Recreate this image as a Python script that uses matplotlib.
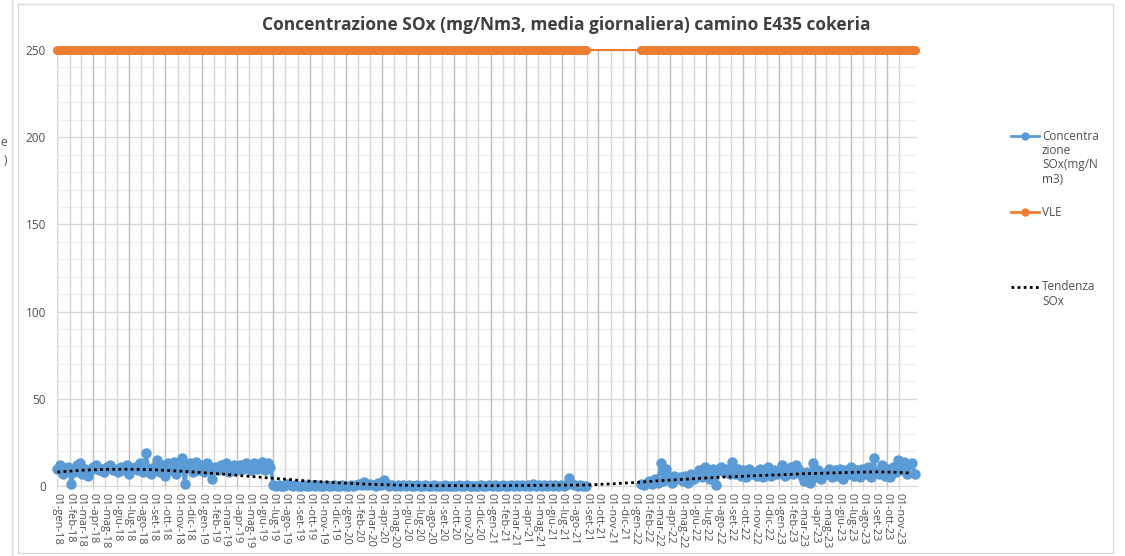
import matplotlib
matplotlib.use('Agg')
import matplotlib.pyplot as plt
import matplotlib.dates as mdates
from matplotlib.lines import Line2D
from matplotlib.patches import Rectangle
import numpy as np
import pandas as pd

plt.rcParams['font.family'] = ['Open Sans', 'DejaVu Sans']

################################ DATI #########################################

# concentrazione SOx, valori settimanali (mg/Nm3)
# periodo 1: dal 01-gen-18, una misura a settimana
conc_2018 = [10, 12, 7, 9, 11,
             1, 8, 12, 13,
             7, 10, 6, 9,
             11, 12, 9, 10,
             8, 11, 12, 9,
             10, 8, 11, 9,
             12, 7, 10, 11, 9,
             13, 8, 19, 10,
             7, 11, 15, 8,
             12, 6, 13, 9, 14,
             7, 12, 16, 1,
             11, 13, 8, 14, 9]
conc_2019_h1 = [12, 8, 13, 10,
                4, 11, 9, 12,
                10, 13, 8, 11, 12,
                9, 12, 10, 13,
                11, 9, 13, 10,
                12, 14, 9, 13, 11]
# periodo 2: dal 01-lug-19 al 30-ago-21
conc_2019_h2 = [0.5, 0, 0.3, 0, 0, 1, 0.5, 0, 0.3, 0, 0, 0.5, 0, 0,
                0.3, 0, 0.5, 0, 0, 0.3, 0, 0, 0.5, 0, 0, 0.3, 0]
conc_2020 = [0, 0.5, 0, 0.3,
             1, 0.5, 2.5, 0.5,
             1, 0.5, 0, 1.5,
             0.5, 3.5, 1, 0,
             0.5, 0, 0.5, 0, 0.3,
             0, 0.3, 0, 0,
             0.3, 0, 0, 0.3,
             0, 0, 0.3, 0, 0,
             0, 0.3, 0, 0,
             0, 0, 0.3, 0,
             0, 0.3, 0, 0, 0,
             0, 0.3, 0, 0, 0.3]
conc_2021 = [0, 0.3, 0, 0,
             0.3, 0, 0, 0.3,
             0, 0.5, 0, 0.3, 0,
             0.5, 0, 1, 0,
             0.3, 0, 0.8, 0, 0.3,
             0, 0.5, 0, 0.3,
             0, 0.5, 4.5, 1,
             0.5, 0, 0.3, 0, 0]
# periodo 3: dal 17-gen-22
conc_2022 = [1, 0.5, 2,
             3, 1, 4, 2,
             13, 3, 10, 5,
             2, 6, 4, 5,
             3, 6, 2, 7, 4,
             6, 9, 5, 11,
             8, 4, 10, 0.5,
             9, 11, 8, 10, 7,
             14, 7, 10, 6,
             9, 5, 10, 7, 8,
             6, 10, 5, 9,
             11, 6, 9, 7]
conc_2023 = [8, 12, 6, 10, 11,
             7, 12, 9, 6,
             3, 8, 2, 13,
             5, 9, 4, 7,
             7, 10, 5, 9, 6,
             10, 4, 9, 7,
             11, 6, 9, 5, 10,
             7, 11, 5, 16,
             8, 7, 12, 6,
             10, 5, 11, 8, 15,
             9, 14, 7, 12,
             13, 7]

VLE = 250

# linea di tendenza (valori al primo del mese, gen-18 ... dic-23)
tendenza = [8.0, 8.5, 9.0, 9.3, 9.5, 9.6, 9.6, 9.5, 9.3, 9.0, 8.6, 8.2,
            7.7, 7.2, 6.7, 6.1, 5.6, 5.0, 4.4, 3.9, 3.3, 2.8, 2.4, 2.0,
            1.6, 1.3, 1.0, 0.8, 0.6, 0.4, 0.3, 0.2, 0.2, 0.2, 0.2, 0.2,
            0.2, 0.2, 0.3, 0.3, 0.4, 0.4, 0.5, 0.5, 0.6, 0.9, 1.2, 1.6,
            2.0, 2.5, 3.0, 3.4, 3.8, 4.2, 4.6, 5.0, 5.3, 5.6, 5.9, 6.2,
            6.4, 6.7, 7.0, 7.2, 7.4, 7.6, 7.8, 8.0, 8.1, 8.0, 7.8, 7.4]

mesi = ['gen', 'feb', 'mar', 'apr', 'mag', 'giu',
        'lug', 'ago', 'set', 'ott', 'nov', 'dic']

titolo = 'Concentrazione SOx (mg/Nm3, media giornaliera) camino E435 cokeria'

############################## GRAFICO ########################################

W, H = 1125, 556
def fx(px):
    return px / W
def fy(py):
    return 1 - py / H

blu = '#5B9BD5'
arancio = '#ED7D31'
grigio = '#505050'

seg1 = conc_2018 + conc_2019_h1
seg2 = conc_2019_h2 + conc_2020 + conc_2021
seg3 = conc_2022 + conc_2023
d1 = pd.date_range('2018-01-01', periods=len(seg1), freq='7D')
d2 = pd.date_range('2019-07-01', periods=len(seg2), freq='7D')
d3 = pd.date_range('2022-01-17', periods=len(seg3), freq='7D')
d_tend = pd.date_range('2018-01-01', periods=len(tendenza), freq='MS')

fig = plt.figure(figsize=(11.25, 5.56), dpi=100)
ax = fig.add_axes([fx(57), fy(486), fx(917) - fx(57), fy(50) - fy(486)])

# serie concentrazione
ax.plot(d1.append(d2), seg1 + seg2, '-o', color=blu, lw=2.5, ms=6.5,
        mec=blu, clip_on=False, zorder=4)
ax.plot(d3, seg3, '-o', color=blu, lw=2.5, ms=6.5, mec=blu,
        clip_on=False, zorder=4)

# VLE
d_all = d1.append(d2).append(d3)
ax.plot(d_all, [VLE] * len(d_all), '-o', color=arancio, lw=1.5, ms=5.5,
        mec=arancio, clip_on=False, zorder=5)

# tendenza
ax.plot(d_tend, tendenza, color='black', lw=2, ls=(0, (1, 1.2)), zorder=6,
        clip_on=False)

ax.set_ylim(0, 250)
ax.set_xlim(pd.Timestamp('2017-12-31'), pd.Timestamp('2023-12-16'))
ax.yaxis.set_major_locator(plt.MultipleLocator(50))
ax.yaxis.set_minor_locator(plt.MultipleLocator(10))
ax.grid(True, which='major', axis='y', color='#d9d9d9', lw=1)
ax.grid(True, which='minor', axis='y', color='#f0f0f0', lw=1)

tick_date = pd.date_range('2018-01-01', '2023-11-01', freq='MS')
tick_lab = ['01-%s-%s' % (mesi[t.month - 1], str(t.year)[2:]) for t in tick_date]
ax.set_xticks(mdates.date2num(tick_date))
ax.set_xticklabels(tick_lab, rotation=270, fontsize=8, color=grigio)
for i, t in enumerate(tick_date):
    c = '#bdbdbd' if i % 3 == 0 else '#d6d6d6'
    ax.axvline(t, color=c, lw=1, zorder=1)
ax.tick_params(axis='x', length=3, color='#d9d9d9', pad=2)
ax.tick_params(axis='y', which='both', length=0, pad=8, labelsize=8.5,
               labelcolor=grigio)
for s in ['top', 'right']:
    ax.spines[s].set_visible(False)
ax.spines['left'].set_color('#d9d9d9')
ax.spines['bottom'].set_color('#d9d9d9')
ax.set_axisbelow(True)

# titolo adattato alla larghezza
t = fig.text(fx(566), fy(25), titolo, ha='center', va='center',
             fontsize=12, weight='bold', color='#404040')
fig.canvas.draw()
w = t.get_window_extent().width
t.set_fontsize(12 * 610 / w)

# legenda a destra
voci = [(136, blu, '-', 'o', ['Concentra', 'zione', 'SOx(mg/N', 'm3)']),
        (212, arancio, '-', 'o', ['VLE']),
        (287, 'black', (0, (1, 1.2)), None, ['Tendenza', 'SOx'])]
for y0, c, ls, mk, righe in voci:
    fig.add_artist(Line2D([fx(1011), fx(1039)], [fy(y0), fy(y0)], color=c,
                          lw=2, ls=ls))
    if mk:
        fig.add_artist(Line2D([fx(1025)], [fy(y0)], marker=mk, color=c, ms=5))
    for k, r in enumerate(righe):
        fig.text(fx(1042), fy(y0 + 14.5 * k), r, ha='left', va='center',
                 fontsize=8.5, color=grigio)

# bordi e resto del grafico vicino tagliato
fig.add_artist(Rectangle((fx(18), fy(553)), fx(1113) - fx(18), fy(4) - fy(553),
                         fill=False, ec='#d9d9d9', lw=1))
fig.add_artist(Line2D([fx(12), fx(12)], [0, 1], color='#d9d9d9', lw=1))
fig.text(fx(7), fy(143), 'e', ha='right', va='center', fontsize=8.5, color=grigio)
fig.text(fx(7), fy(160), ')', ha='right', va='center', fontsize=8.5, color=grigio)

fig.savefig('out.png', dpi=100)
